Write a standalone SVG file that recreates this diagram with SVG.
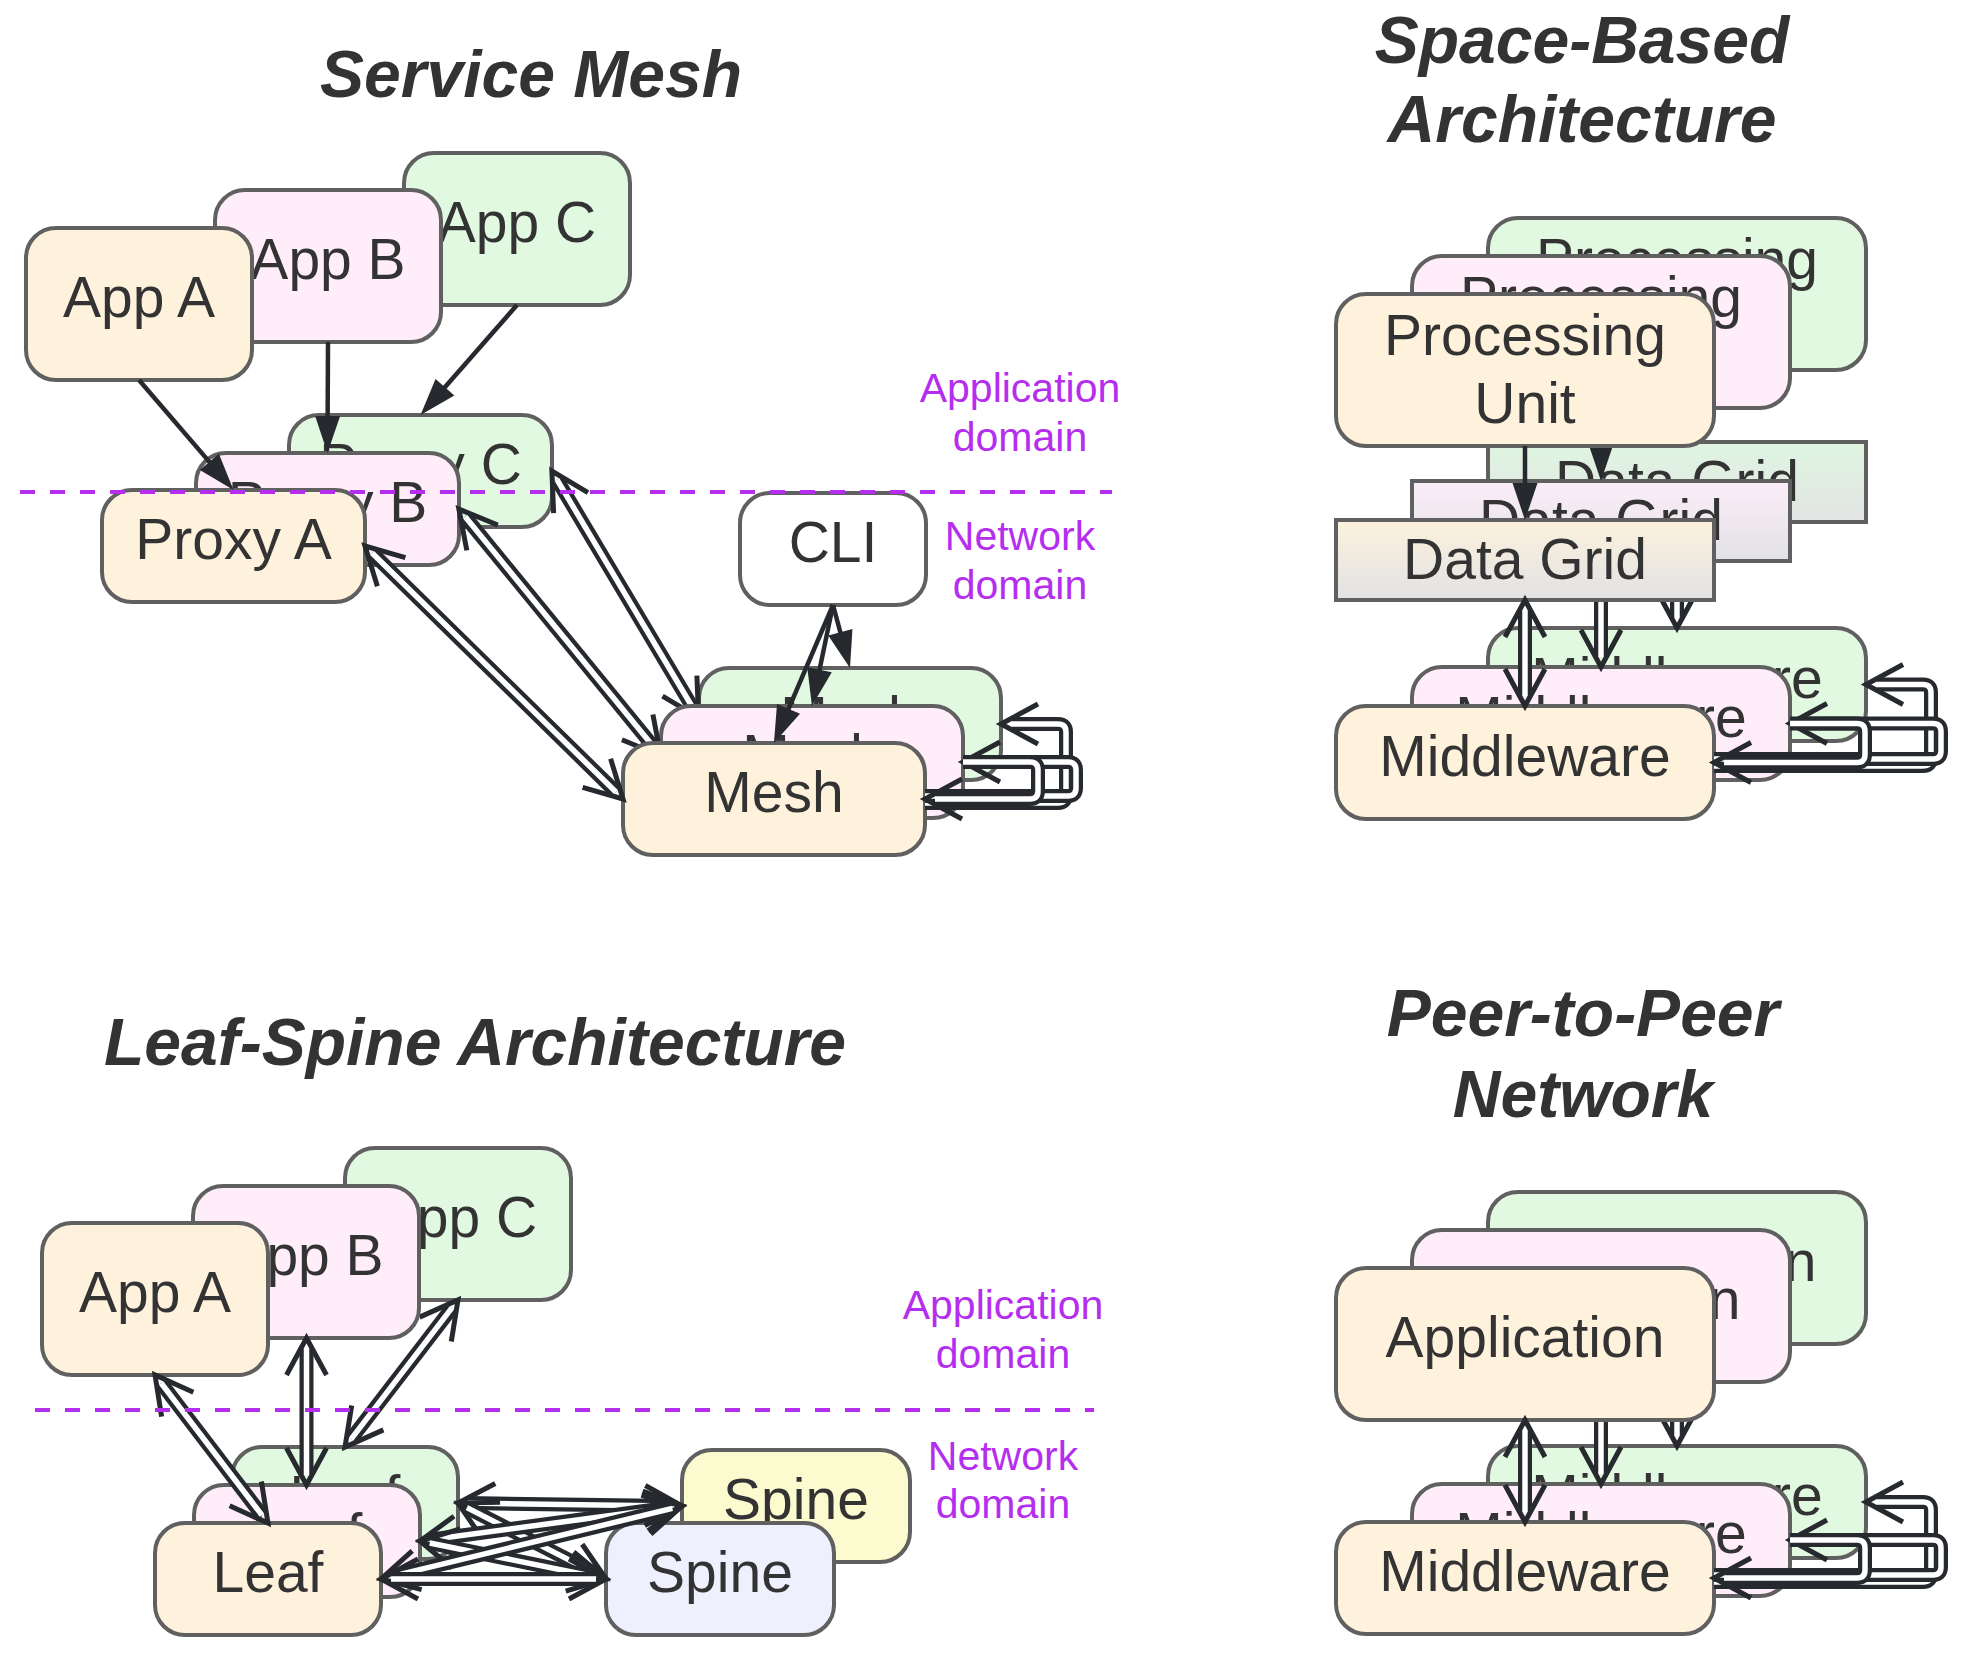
<svg xmlns="http://www.w3.org/2000/svg" width="1978" height="1661" viewBox="0 0 1978 1661">
<style>
  .title { font-family: "Liberation Sans", Arial, sans-serif; font-size: 66px; font-weight: bold; font-style: italic; fill: #333333; text-anchor: middle; }
  .t { font-family: "Liberation Sans", Arial, sans-serif; font-size: 57px; fill: #333333; text-anchor: middle; }
  .lbl { font-family: "Liberation Sans", Arial, sans-serif; font-size: 41px; fill: #b52ef0; text-anchor: middle; }
  .n { stroke: #606060; stroke-width: 4; }
  .cream { fill: #fff2dc; }
  .pink { fill: #ffeef9; }
  .green { fill: #e1f8e1; }
  .white { fill: #ffffff; }
  .yellow { fill: #fcfbd0; }
  .lav { fill: #eff0fd; }
  .e { fill: none; stroke: #26292e; stroke-width: 4.5; marker-end: url(#ah); }
  .do { fill: none; stroke: #26292e; stroke-width: 14; stroke-linejoin: round; }
  .di { fill: none; stroke: #ffffff; stroke-width: 5.5; stroke-linejoin: round; }
  .bi { marker-start: url(#ch); marker-end: url(#ch); }
  .uni { marker-end: url(#ch); }
  .dash { fill: none; stroke: #b52ef0; stroke-width: 4; stroke-dasharray: 15 15; }
</style>
<defs>
  <marker id="ah" markerUnits="userSpaceOnUse" orient="auto" markerWidth="50" markerHeight="40" viewBox="-45 -20 50 40" refX="-8" refY="0" overflow="visible">
    <path d="M-37,-12.5 L0,0 L-37,12.5 Z" fill="#26292e"/>
  </marker>
  <marker id="ch" markerUnits="userSpaceOnUse" orient="auto-start-reverse" markerWidth="50" markerHeight="50" viewBox="-45 -25 50 50" refX="-10" refY="0" overflow="visible">
    <path d="M-37,-20 L0,0 L-37,20" fill="none" stroke="#26292e" stroke-width="5"/>
  </marker>
  <linearGradient id="gCream" x1="0" y1="0" x2="0" y2="1">
    <stop offset="0" stop-color="#fcf1dc"/><stop offset="1" stop-color="#e2e2e4"/>
  </linearGradient>
  <linearGradient id="gPink" x1="0" y1="0" x2="0" y2="1">
    <stop offset="0" stop-color="#fcedf8"/><stop offset="1" stop-color="#e2e2e6"/>
  </linearGradient>
  <linearGradient id="gGreen" x1="0" y1="0" x2="0" y2="1">
    <stop offset="0" stop-color="#dff5e0"/><stop offset="1" stop-color="#e2e4e4"/>
  </linearGradient>
</defs>
<rect x="0" y="0" width="1978" height="1661" fill="#ffffff"/>

<!-- ================= SERVICE MESH ================= -->
<g id="service-mesh">
  <text class="title" x="531" y="97">Service Mesh</text>
  <g id="sm-cli"><rect class="n white" x="740" y="493" width="186" height="112" rx="30"/><text class="t" x="833" y="562">CLI</text></g>
  <!-- green layer -->
  <g id="sm-app-c"><rect class="n green" x="404" y="153" width="226" height="152" rx="30"/><text class="t" x="517" y="242">App C</text></g>
  <g id="sm-proxy-c"><rect class="n green" x="289" y="415" width="263" height="112" rx="30"/><text class="t" x="420.5" y="484">Proxy C</text></g>
  <g id="sm-mesh-green"><rect class="n green" x="699" y="668" width="302" height="112" rx="30"/><text class="t" x="850" y="737">Mesh</text></g>
  <g id="sm-connectors-green">
    <path class="e" d="M517,305 L425.8,409"/>
    <path class="do bi" d="M557,479.6 L693.5,709"/><path class="di" d="M557,479.6 L693.5,709"/>
    <path class="e" d="M833,605 L847.9,660.3"/>
  </g>
  <!-- pink layer -->
  <g id="sm-app-b"><rect class="n pink" x="215" y="190" width="226" height="152" rx="30"/><text class="t" x="328" y="279">App B</text></g>
  <g id="sm-proxy-b"><rect class="n pink" x="196" y="453" width="263" height="112" rx="30"/><text class="t" x="327.5" y="522">Proxy B</text></g>
  <g id="sm-mesh-pink"><rect class="n pink" x="661" y="706" width="302" height="112" rx="30"/><text class="t" x="812" y="775">Mesh</text></g>
  <g id="sm-connectors-pink">
    <path class="e" d="M328,342 L327.5,445"/>
    <path class="do bi" d="M465.2,516.8 L654.5,748"/><path class="di" d="M465.2,516.8 L654.5,748"/>
    <path class="e" d="M833,605 L813.6,698.2"/>
  </g>
  <!-- cream layer -->
  <g id="sm-app-a"><rect class="n cream" x="26" y="228" width="226" height="152" rx="30"/><text class="t" x="139" y="317">App A</text></g>
  <g id="sm-proxy-a"><rect class="n cream" x="102" y="490" width="263" height="112" rx="30"/><text class="t" x="233.5" y="559">Proxy A</text></g>
  <g id="sm-mesh-cream"><rect class="n cream" x="623" y="743" width="302" height="112" rx="30"/><text class="t" x="774" y="812">Mesh</text></g>
  <g id="sm-connectors-cream">
    <path class="e" d="M139,380 L228.3,483.9"/>
    <path class="do bi" d="M372.1,553 L615.9,792"/><path class="di" d="M372.1,553 L615.9,792"/>
    <path class="e" d="M833,605 L777.1,735.6"/>
    <path class="do uni" d="M925,803 H1058 Q1066,803 1066,795 V732 Q1066,724 1058,724 H1011"/><path class="di" d="M925,803 H1058 Q1066,803 1066,795 V732 Q1066,724 1058,724 H1011"/>
    <path class="do uni" d="M925,796 H1068 Q1076,796 1076,788 V770 Q1076,762 1068,762 H973"/><path class="di" d="M925,796 H1068 Q1076,796 1076,788 V770 Q1076,762 1068,762 H973"/>
    <path class="do uni" d="M963,762 H1030 Q1038,762 1038,770 V791 Q1038,799 1030,799 H935"/><path class="di" d="M963,762 H1030 Q1038,762 1038,770 V791 Q1038,799 1030,799 H935"/>
  </g>
  <path class="dash" d="M20,492 H1112"/>
  <text class="lbl" x="1020" y="402">Application</text>
  <text class="lbl" x="1020" y="451">domain</text>
  <text class="lbl" x="1020" y="550">Network</text>
  <text class="lbl" x="1020" y="599">domain</text>
</g>

<!-- ================= SPACE-BASED ================= -->
<g id="space-based">
  <text class="title" x="1582" y="63">Space-Based</text>
  <text class="title" x="1582" y="142">Architecture</text>
  <!-- green -->
  <g id="sb-pu-green"><rect class="n green" x="1488" y="218" width="378" height="152" rx="30"/><text class="t" x="1677" y="279">Processing</text><text class="t" x="1677" y="347">Unit</text></g>
  <g id="sb-dg-green"><rect class="n" fill="url(#gGreen)" x="1488" y="442" width="378" height="80"/><text class="t" x="1677" y="501">Data Grid</text></g>
  <g id="sb-mw-green"><rect class="n green" x="1488" y="628" width="378" height="113" rx="30"/><text class="t" x="1677" y="697.5">Middleware</text></g>
  <g id="sb-connectors-green">
    <path class="e" d="M1677,370 L1677,434"/>
    <path class="do bi" d="M1677,532 L1677,618"/><path class="di" d="M1677,532 L1677,618"/>
  </g>
  <!-- pink -->
  <g id="sb-pu-pink"><rect class="n pink" x="1412" y="256" width="378" height="152" rx="30"/><text class="t" x="1601" y="317">Processing</text><text class="t" x="1601" y="385">Unit</text></g>
  <g id="sb-dg-pink"><rect class="n" fill="url(#gPink)" x="1412" y="481" width="378" height="80"/><text class="t" x="1601" y="540">Data Grid</text></g>
  <g id="sb-mw-pink"><rect class="n pink" x="1412" y="667" width="378" height="113" rx="30"/><text class="t" x="1601" y="736.5">Middleware</text></g>
  <g id="sb-connectors-pink">
    <path class="e" d="M1601,408 L1601,473"/>
    <path class="do bi" d="M1601,571 L1601,657"/><path class="di" d="M1601,571 L1601,657"/>
  </g>
  <!-- cream -->
  <g id="sb-pu-cream"><rect class="n cream" x="1336" y="294" width="378" height="152" rx="30"/><text class="t" x="1525" y="355">Processing</text><text class="t" x="1525" y="423">Unit</text></g>
  <g id="sb-dg-cream"><rect class="n" fill="url(#gCream)" x="1336" y="520" width="378" height="80"/><text class="t" x="1525" y="579">Data Grid</text></g>
  <g id="sb-mw-cream"><rect class="n cream" x="1336" y="706" width="378" height="113" rx="30"/><text class="t" x="1525" y="775.5">Middleware</text></g>
  <g id="sb-connectors-cream">
    <path class="e" d="M1525,446 L1525,512"/>
    <path class="do bi" d="M1525,610 L1525,696"/><path class="di" d="M1525,610 L1525,696"/>
    <path class="do uni" d="M1714,766 H1923 Q1931,766 1931,758 V692.5 Q1931,684.5 1923,684.5 H1876"/><path class="di" d="M1714,766 H1923 Q1931,766 1931,758 V692.5 Q1931,684.5 1923,684.5 H1876"/>
    <path class="do uni" d="M1714,759 H1933 Q1941,759 1941,751 V731.5 Q1941,723.5 1933,723.5 H1800"/><path class="di" d="M1714,759 H1933 Q1941,759 1941,751 V731.5 Q1941,723.5 1933,723.5 H1800"/>
    <path class="do uni" d="M1790,723.5 H1857 Q1865,723.5 1865,731.5 V754.5 Q1865,762.5 1857,762.5 H1724"/><path class="di" d="M1790,723.5 H1857 Q1865,723.5 1865,731.5 V754.5 Q1865,762.5 1857,762.5 H1724"/>
  </g>
</g>

<!-- ================= LEAF-SPINE ================= -->
<g id="leaf-spine">
  <text class="title" x="475" y="1065">Leaf-Spine Architecture</text>
  <!-- green -->
  <g id="ls-app-c"><rect class="n green" x="345" y="1148" width="226" height="152" rx="30"/><text class="t" x="458" y="1237">App C</text></g>
  <g id="ls-leaf-green"><rect class="n green" x="232" y="1447" width="226" height="112" rx="30"/><text class="t" x="345" y="1516">Leaf</text></g>
  <g id="ls-connectors-green">
    <path class="do bi" d="M451.9,1307.9 L351.1,1439.1"/><path class="di" d="M451.9,1307.9 L351.1,1439.1"/>
  </g>
  <!-- pink -->
  <g id="ls-app-b"><rect class="n pink" x="193" y="1186" width="226" height="152" rx="30"/><text class="t" x="306" y="1275">App B</text></g>
  <g id="ls-leaf-pink"><rect class="n pink" x="194" y="1485" width="226" height="112" rx="30"/><text class="t" x="307" y="1554">Leaf</text></g>
  <g id="ls-connectors-pink">
    <path class="do bi" d="M306.5,1348 L306.5,1475"/><path class="di" d="M306.5,1348 L306.5,1475"/>
  </g>
  <!-- cream -->
  <g id="ls-app-a"><rect class="n cream" x="42" y="1223" width="226" height="152" rx="30"/><text class="t" x="155" y="1312">App A</text></g>
  <g id="ls-leaf-cream"><rect class="n cream" x="155" y="1523" width="226" height="112" rx="30"/><text class="t" x="268" y="1592">Leaf</text></g>
  <g id="ls-connectors-cream">
    <path class="do bi" d="M161.1,1383 L261.9,1515.1"/><path class="di" d="M161.1,1383 L261.9,1515.1"/>
  </g>
  <g id="ls-spine-yellow"><rect class="n yellow" x="682" y="1450" width="228" height="112" rx="30"/><text class="t" x="796" y="1519">Spine</text></g>
  <g id="ls-spine-lav"><rect class="n lav" x="606" y="1523" width="228" height="112" rx="30"/><text class="t" x="720" y="1592">Spine</text></g>
  <g id="ls-connectors-spine">
    <path class="do bi" d="M468,1503.1 L672,1505.9"/><path class="di" d="M468,1503.1 L672,1505.9"/>
    <path class="do bi" d="M466.9,1507.6 L597.1,1574.4"/><path class="di" d="M466.9,1507.6 L597.1,1574.4"/>
    <path class="do bi" d="M429.9,1539.7 L672.1,1507.3"/><path class="di" d="M429.9,1539.7 L672.1,1507.3"/>
    <path class="do bi" d="M429.8,1543 L596.2,1577"/><path class="di" d="M429.8,1543 L596.2,1577"/>
    <path class="do bi" d="M390.7,1576.6 L672.3,1508.4"/><path class="di" d="M390.7,1576.6 L672.3,1508.4"/>
    <path class="do bi" d="M391,1579 L596,1579"/><path class="di" d="M391,1579 L596,1579"/>
  </g>
  <path class="dash" d="M35,1410 H1094"/>
  <text class="lbl" x="1003" y="1319">Application</text>
  <text class="lbl" x="1003" y="1368">domain</text>
  <text class="lbl" x="1003" y="1470">Network</text>
  <text class="lbl" x="1003" y="1518">domain</text>
</g>

<!-- ================= PEER-TO-PEER ================= -->
<g id="peer-to-peer">
  <text class="title" x="1583" y="1036">Peer-to-Peer</text>
  <text class="title" x="1583" y="1117">Network</text>
  <!-- green -->
  <g id="p2p-app-green"><rect class="n green" x="1488" y="1192" width="378" height="152" rx="30"/><text class="t" x="1677" y="1281">Application</text></g>
  <g id="p2p-mw-green"><rect class="n green" x="1488" y="1446" width="378" height="112" rx="30"/><text class="t" x="1677" y="1515">Middleware</text></g>
  <g id="p2p-connectors-green">
    <path class="do bi" d="M1677,1354 L1677,1436"/><path class="di" d="M1677,1354 L1677,1436"/>
  </g>
  <!-- pink -->
  <g id="p2p-app-pink"><rect class="n pink" x="1412" y="1230" width="378" height="152" rx="30"/><text class="t" x="1601" y="1319">Application</text></g>
  <g id="p2p-mw-pink"><rect class="n pink" x="1412" y="1484" width="378" height="112" rx="30"/><text class="t" x="1601" y="1553">Middleware</text></g>
  <g id="p2p-connectors-pink">
    <path class="do bi" d="M1601,1392 L1601,1474"/><path class="di" d="M1601,1392 L1601,1474"/>
  </g>
  <!-- cream -->
  <g id="p2p-app-cream"><rect class="n cream" x="1336" y="1268" width="378" height="152" rx="30"/><text class="t" x="1525" y="1357">Application</text></g>
  <g id="p2p-mw-cream"><rect class="n cream" x="1336" y="1522" width="378" height="112" rx="30"/><text class="t" x="1525" y="1591">Middleware</text></g>
  <g id="p2p-connectors-cream">
    <path class="do bi" d="M1525,1430 L1525,1512"/><path class="di" d="M1525,1430 L1525,1512"/>
    <path class="do uni" d="M1714,1582 H1923 Q1931,1582 1931,1574 V1510 Q1931,1502 1923,1502 H1876"/><path class="di" d="M1714,1582 H1923 Q1931,1582 1931,1574 V1510 Q1931,1502 1923,1502 H1876"/>
    <path class="do uni" d="M1714,1575 H1933 Q1941,1575 1941,1567 V1548 Q1941,1540 1933,1540 H1800"/><path class="di" d="M1714,1575 H1933 Q1941,1575 1941,1567 V1548 Q1941,1540 1933,1540 H1800"/>
    <path class="do uni" d="M1790,1540 H1857 Q1865,1540 1865,1548 V1570 Q1865,1578 1857,1578 H1724"/><path class="di" d="M1790,1540 H1857 Q1865,1540 1865,1548 V1570 Q1865,1578 1857,1578 H1724"/>
  </g>
</g>
</svg>
